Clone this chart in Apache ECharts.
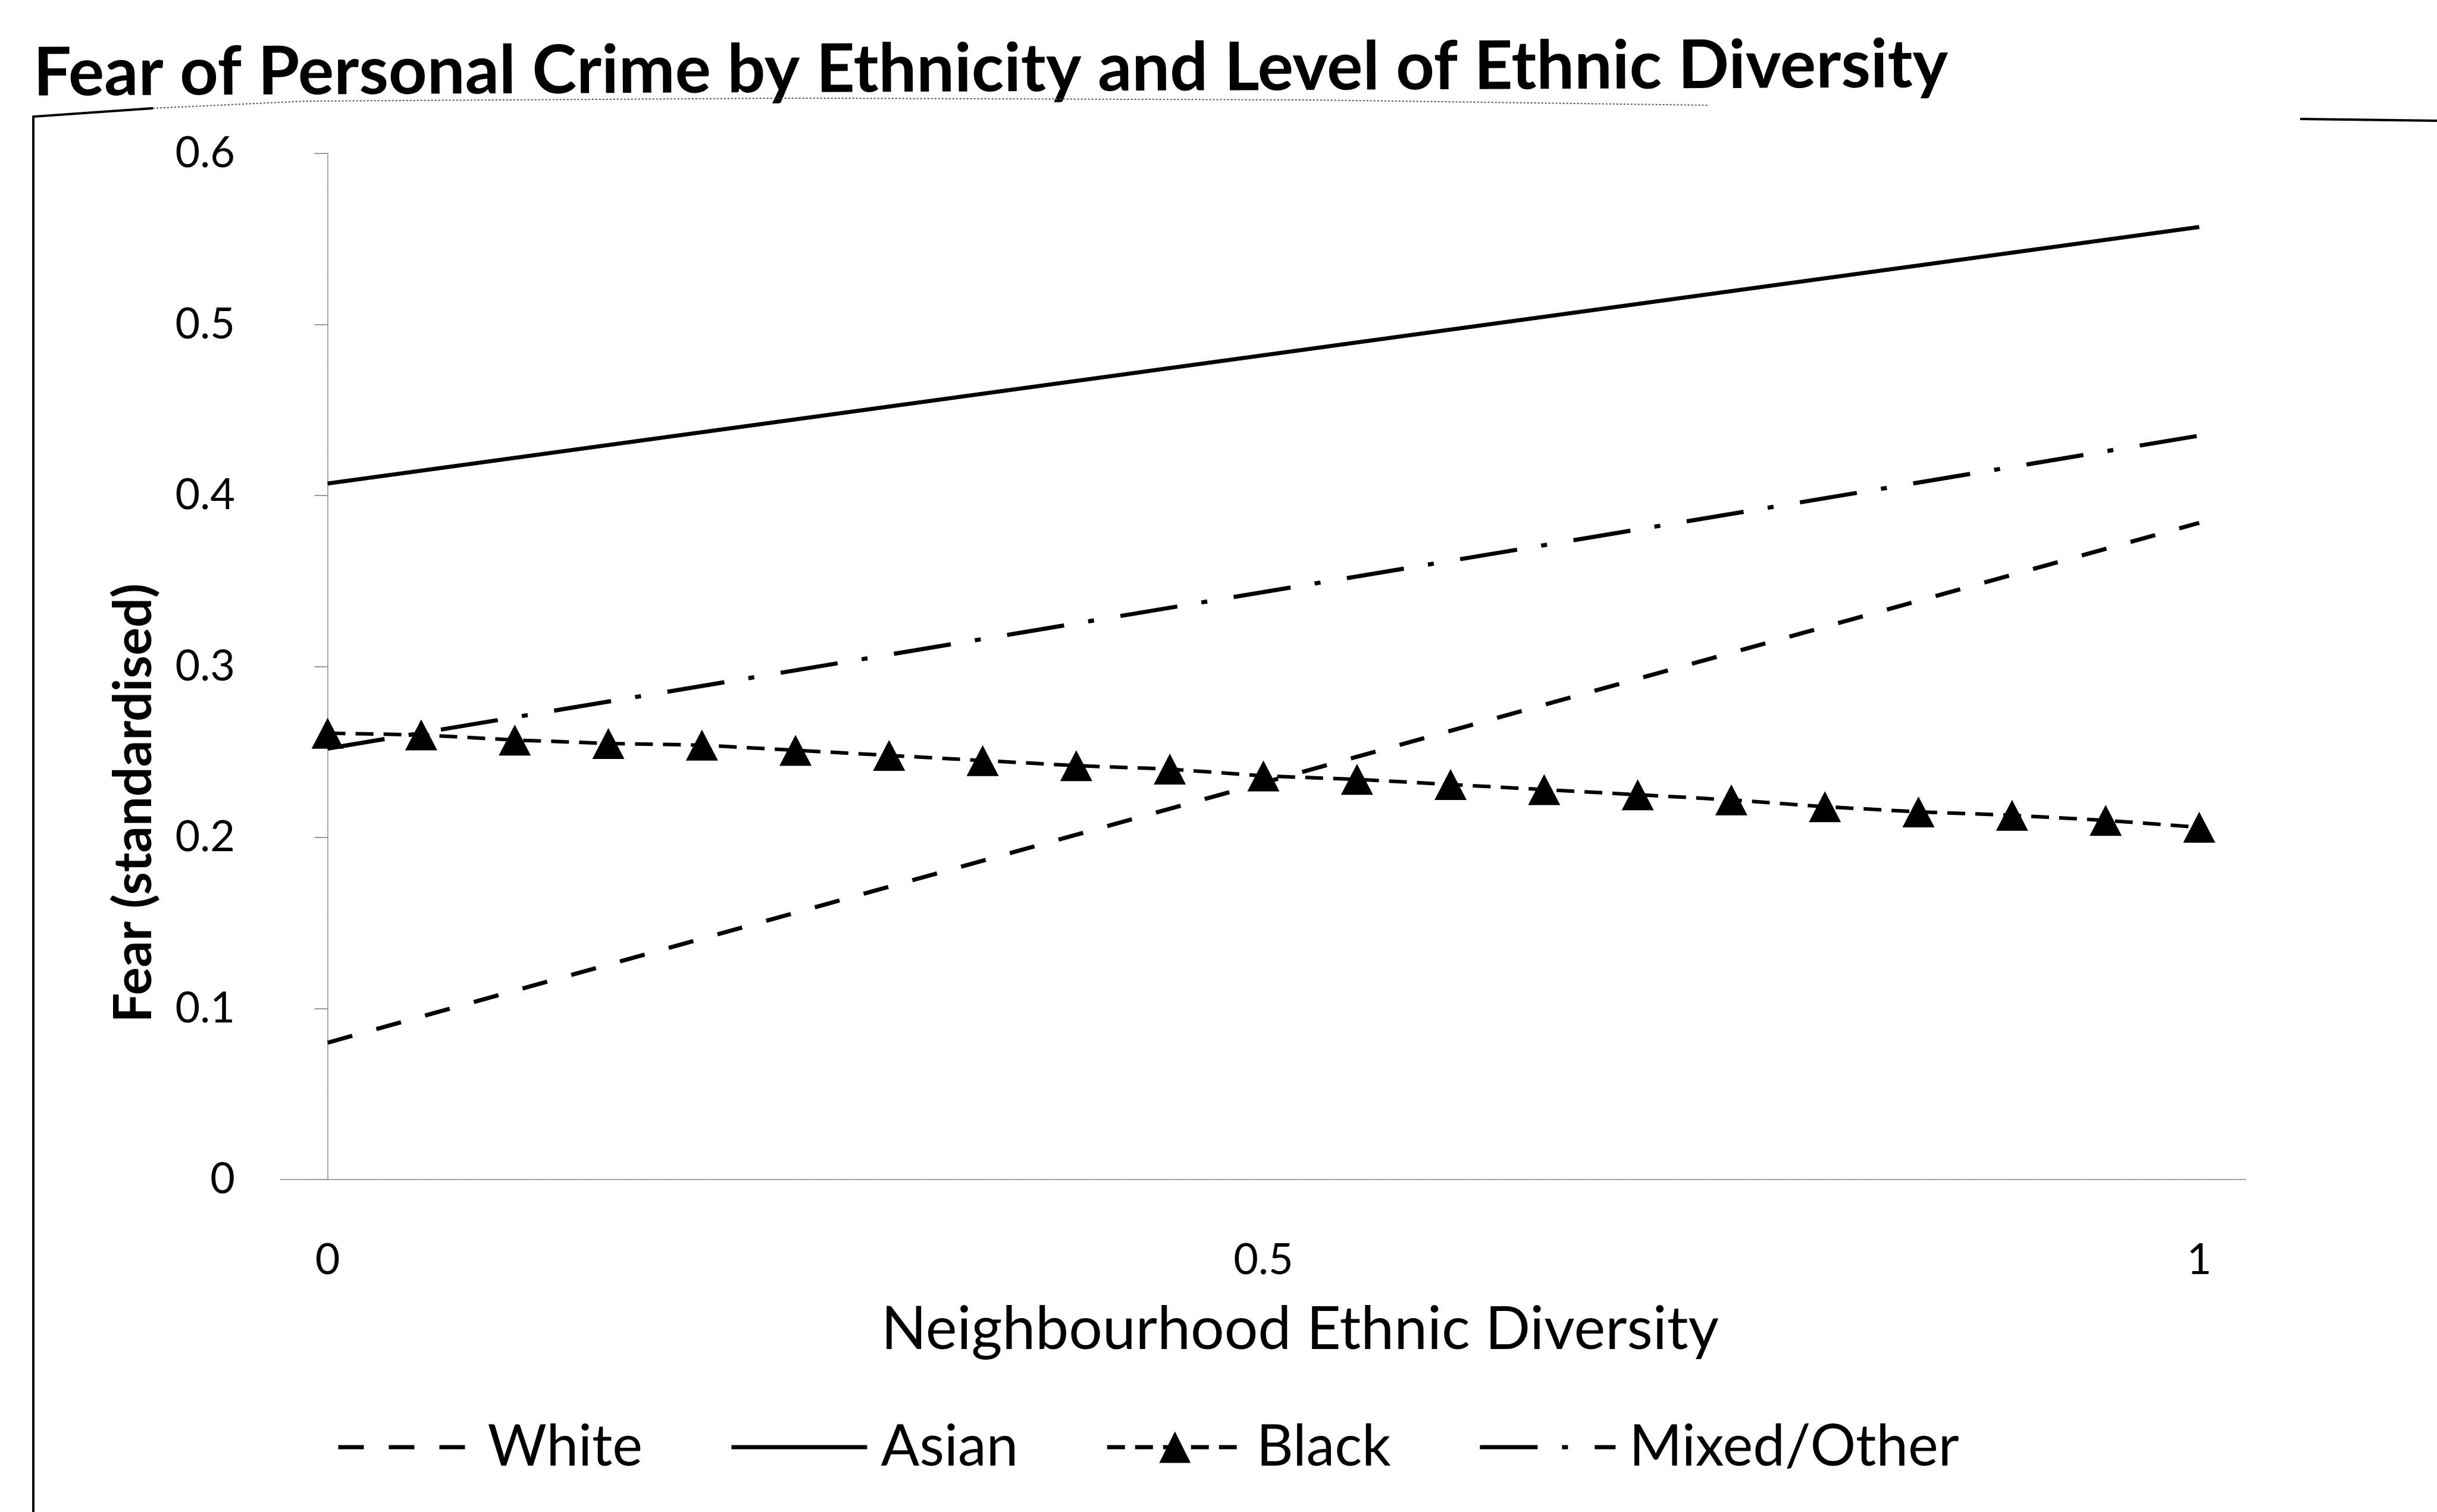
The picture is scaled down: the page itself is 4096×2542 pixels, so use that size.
<!DOCTYPE html>
<html>
<head>
<meta charset="utf-8">
<script src="https://cdn.jsdelivr.net/npm/echarts@6/dist/echarts.min.js"></script>
<style>
  html, body { margin: 0; padding: 0; background: #ffffff; }
  #chart { width: 4096px; height: 2542px; }
</style>
</head>
<body>
<div id="chart"></div>
<script>
// Text
const titleText = 'Fear of Personal Crime by Ethnicity and Level of Ethnic Diversity';
const xTitle = 'Neighbourhood Ethnic Diversity';
const yTitle = 'Fear (standardised)';
const seriesNames = ['White', 'Asian', 'Black', 'Mixed/Other'];

// Axis ticks
const xTickValues = [0, 0.5, 1];

// Straight-line fits: value at diversity 0 and 1
const lineEnds = [0, 1];
const white = [0.080, 0.384];
const asian = [0.407, 0.557];
const mixedOther = [0.252, 0.435];

// Black: plotted at every 0.05 step
const diversity = [0, 0.05, 0.1, 0.15, 0.2, 0.25, 0.3, 0.35, 0.4, 0.45, 0.5,
                   0.55, 0.6, 0.65, 0.7, 0.75, 0.8, 0.85, 0.9, 0.95, 1];
const black = [0.261, 0.260, 0.257, 0.255, 0.254, 0.251, 0.248, 0.245, 0.242, 0.240, 0.236,
               0.234, 0.231, 0.228, 0.225, 0.222, 0.218, 0.215, 0.213, 0.210, 0.206];

const FONT = 'Lato, "Open Sans", sans-serif';
const INK = '#000000';

const pairs = (xs, ys) => xs.map((x, i) => [x, ys[i]]);

const chart = echarts.init(document.getElementById('chart'), null, { renderer: 'canvas' });

chart.setOption({
  animation: false,
  backgroundColor: '#ffffff',
  grid: {
    left: 472, right: 321, top: 258, bottom: 559,
    containLabel: false, outerBoundsMode: 'none'
  },
  xAxis: {
    type: 'value',
    min: -0.025, max: 1.025,
    axisLine: { show: true, lineStyle: { color: '#9a9a9a', width: 2, type: 'dotted' } },
    axisTick: { show: false },
    splitLine: { show: false },
    axisLabel: {
      customValues: xTickValues,
      formatter: v => String(v),
      margin: 100,
      fontFamily: FONT, fontSize: 72, color: INK
    }
  },
  yAxis: {
    type: 'value',
    min: 0, max: 0.6, interval: 0.1,
    axisLine: { show: true, lineStyle: { color: '#9a9a9a', width: 2, type: 'dotted' } },
    axisTick: { show: true, inside: false, length: 22, lineStyle: { color: '#9a9a9a', width: 2 } },
    splitLine: { show: false },
    axisLabel: {
      formatter: v => (v === 0 ? '0' : v.toFixed(1)),
      margin: 77,
      fontFamily: FONT, fontSize: 72, color: INK
    }
  },
  legend: {
    data: [
      { name: seriesNames[0], itemStyle: { opacity: 0 } },
      { name: seriesNames[1], itemStyle: { opacity: 0 } },
      { name: seriesNames[2] },
      { name: seriesNames[3], itemStyle: { opacity: 0 } }
    ],
    left: 560, top: 2380,
    itemWidth: 228, itemHeight: 66, itemGap: 146,
    lineStyle: { width: 7 },
    textStyle: { fontFamily: FONT, fontSize: 96, color: INK, padding: [0, 0, 0, 18] }
  },
  graphic: [
    {
      type: 'text', x: 56, y: 124, rotation: 0.0044,
      style: { text: titleText, fontFamily: FONT, fontWeight: 'bold', fontSize: 113,
               fill: INK, textAlign: 'left', textVerticalAlign: 'middle' }
    },
    {
      type: 'text', x: 226, y: 1350, rotation: Math.PI / 2,
      style: { text: yTitle, fontFamily: FONT, fontWeight: 'bold', fontSize: 88,
               fill: INK, textAlign: 'center', textVerticalAlign: 'middle' }
    },
    {
      type: 'text', x: 2185, y: 2236,
      style: { text: xTitle, fontFamily: FONT, fontSize: 100,
               fill: INK, textAlign: 'center', textVerticalAlign: 'middle' }
    },
    // chart frame
    {
      type: 'polyline', silent: true,
      shape: { points: [[56, 2542], [56, 196], [257, 182]] },
      style: { stroke: INK, lineWidth: 4, fill: null }
    },
    {
      type: 'polyline', silent: true,
      shape: { points: [[257, 182], [515, 170], [1339, 165], [2200, 168], [2873, 177]] },
      style: { stroke: '#555555', lineWidth: 2, lineDash: [3, 3], fill: null }
    },
    {
      type: 'line', silent: true,
      shape: { x1: 3866, y1: 200, x2: 4096, y2: 203 },
      style: { stroke: INK, lineWidth: 4 }
    }
  ],
  series: [
    {
      name: seriesNames[0], type: 'line', data: pairs(lineEnds, white),
      symbol: 'none', color: INK,
      lineStyle: { color: INK, width: 7, type: [43, 42], cap: 'butt' }
    },
    {
      name: seriesNames[1], type: 'line', data: pairs(lineEnds, asian),
      symbol: 'none', color: INK,
      lineStyle: { color: INK, width: 7, type: 'solid' }
    },
    {
      name: seriesNames[2], type: 'line', data: pairs(diversity, black),
      symbol: 'triangle', symbolSize: [54, 52], showAllSymbol: true, color: INK,
      itemStyle: { color: INK },
      lineStyle: { color: INK, width: 6, type: [30, 17], cap: 'butt' }
    },
    {
      name: seriesNames[3], type: 'line', data: pairs(lineEnds, mixedOther),
      symbol: 'none', color: INK,
      lineStyle: { color: INK, width: 7, type: [97, 41, 10, 45], cap: 'butt' }
    }
  ]
});
</script>
</body>
</html>
